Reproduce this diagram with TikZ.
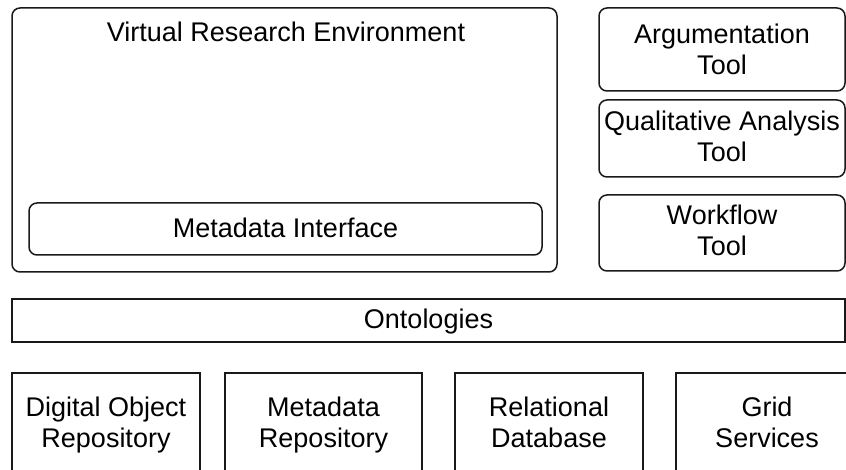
\documentclass[tikz,border=0pt]{standalone}
\usepackage{fontspec}
\setmainfont{Liberation Sans}
\newcommand\twolines[4]{\rule{0pt}{#1}#3\\#4\rule[-#2]{0pt}{#2}}
\begin{document}
\begin{tikzpicture}[x=1pt,y=-1pt,
  txt/.style={font=\fontsize{27}{31}\selectfont, align=center, inner sep=0pt},
  box/.style={txt, draw=black!90, line width=1.5pt},
  rbox/.style={box, rounded corners=8pt}]
\clip (0,0) rectangle (846,470);
\fill[white] (0,0) rectangle (846,470);
% Virtual research environment
\node[rbox, minimum width=545pt, minimum height=264pt] (vre) at (284.5,140) {};
\node[txt, anchor=base] (vretitle) at (286,42) {Virtual Research Environment};
\node[rbox, minimum width=513pt, minimum height=52pt, text height=24pt, text depth=6pt] (mdi) at (285.5,229) {Metadata Interface};
% tools
\node[rbox, minimum width=246pt, minimum height=83pt] (arg) at (722,49.5) {\twolines{25pt}{6.4pt}{Argumentation}{Tool}};
\node[rbox, minimum width=246pt, minimum height=77pt] (qual) at (722,138.5) {\twolines{23pt}{7pt}{Qualitative Analysis}{Tool}};
\node[rbox, minimum width=246pt, minimum height=76pt] (wf) at (722,233) {\twolines{22pt}{7pt}{Workflow}{Tool}};
% ontologies
\node[box, minimum width=833pt, minimum height=43pt, text height=23pt, text depth=6pt] (onto) at (428.5,320.5) {Ontologies};
% repositories
\node[box, minimum width=188pt, minimum height=104pt] (dor) at (106,425) {\twolines{21.7pt}{7.3pt}{Digital Object}{Repository}};
\node[box, minimum width=197pt, minimum height=104pt] (mdr) at (323.5,425) {\twolines{21.7pt}{7.3pt}{Metadata}{Repository}};
\node[box, minimum width=188pt, minimum height=104pt] (rdb) at (549,425) {\twolines{21.7pt}{7.3pt}{Relational}{Database}};
\node[box, minimum width=182pt, minimum height=104pt] (grid) at (767,425) {\twolines{21.7pt}{7.3pt}{Grid}{Services}};
\end{tikzpicture}
\end{document}
